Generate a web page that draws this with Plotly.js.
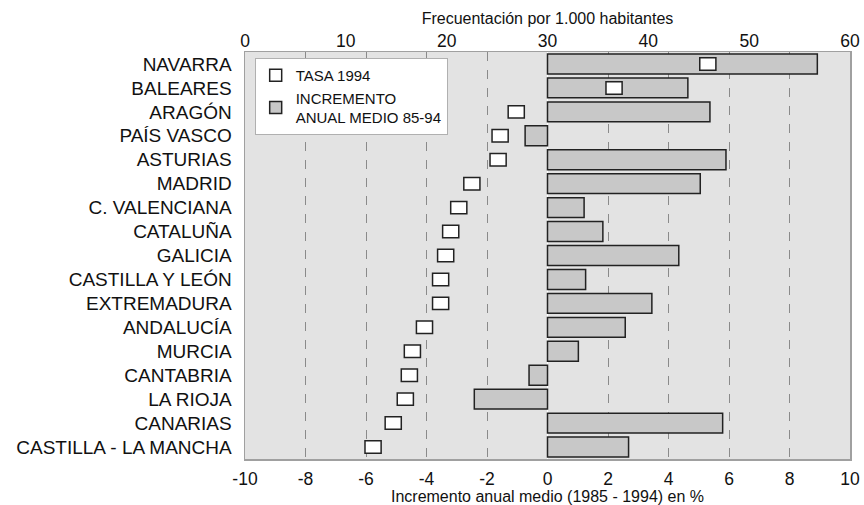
<!DOCTYPE html>
<html>
<head>
<meta charset="utf-8">
<script src="https://cdn.plot.ly/plotly-3.0.1.min.js"></script>
<style>html,body{margin:0;padding:0;background:#fff;}#chart{width:864px;height:505px;}</style>
</head>
<body>
<div id="chart"></div>
<script>
const regions = ["NAVARRA","BALEARES","ARAGÓN","PAÍS VASCO","ASTURIAS","MADRID","C. VALENCIANA","CATALUÑA","GALICIA","CASTILLA Y LEÓN","EXTREMADURA","ANDALUCÍA","MURCIA","CANTABRIA","LA RIOJA","CANARIAS","CASTILLA - LA MANCHA"];
const incremento = [8.92,4.64,5.37,-0.74,5.90,5.05,1.21,1.83,4.34,1.26,3.45,2.57,1.02,-0.61,-2.42,5.79,2.68];
const tasa1994 = [45.9,36.6,26.9,25.3,25.1,22.5,21.2,20.4,19.9,19.4,19.4,17.8,16.6,16.3,15.9,14.7,12.7];
const bottomTicks = [-10,-8,-6,-4,-2,0,2,4,6,8,10];
const topTicks = [0,10,20,30,40,50,60];

const FONT = "Liberation Sans, Arial, sans-serif";
const halfSq = 0.8;

const traces = [
  {
    type: "bar", orientation: "h", name: "INCREMENTO<br>ANUAL MEDIO 85-94",
    y: regions, x: incremento, xaxis: "x", yaxis: "y",
    width: 0.83,
    marker: {color: "#c8c8c8", line: {color: "#222", width: 1.5}},
    legendrank: 2, hoverinfo: "skip"
  },
  {
    type: "bar", orientation: "h", name: "TASA 1994",
    y: regions, x: tasa1994.map(() => 2 * halfSq), base: tasa1994.map(v => v - halfSq),
    xaxis: "x2", yaxis: "y",
    width: 0.52,
    marker: {color: "#ffffff", line: {color: "#222", width: 1.5}},
    legendrank: 1, hoverinfo: "skip"
  }
];

const layout = {
  width: 864, height: 505,
  margin: {l: 245, r: 14, t: 52, b: 46},
  paper_bgcolor: "#ffffff",
  plot_bgcolor: "#e3e3e3",
  barmode: "overlay",
  font: {family: FONT, color: "#111"},
  showlegend: true,
  legend: {
    x: 0.016, y: 0.985, xanchor: "left", yanchor: "top",
    bgcolor: "#ffffff", bordercolor: "#b0b0b0", borderwidth: 1,
    font: {family: FONT, size: 15, color: "#111"},
    tracegroupgap: 0, itemwidth: 30
  },
  xaxis: {
    range: [-10, 10], tickvals: bottomTicks, ticktext: bottomTicks.map(String),
    showgrid: true, gridcolor: "#8a8a8a", griddash: "dash", gridwidth: 1,
    zeroline: true, zerolinecolor: "#ffffff", zerolinewidth: 1.5,
    showline: true, linecolor: "#a0a0a0", linewidth: 1.5, mirror: true,
    ticks: "outside", ticklen: 3, tickcolor: "rgba(0,0,0,0)",
    tickfont: {size: 17.5, family: FONT, color: "#111"},
    title: {text: "Incremento anual medio (1985 - 1994) en %", font: {size: 16, family: FONT, color: "#111"}, standoff: 0}
  },
  xaxis2: {
    overlaying: "x", side: "top", anchor: "y",
    range: [0, 60], tickvals: topTicks, ticktext: topTicks.map(String),
    showgrid: false, zeroline: false,
    ticks: "", ticklen: 0, ticklabelstandoff: 1,
    tickfont: {size: 17.5, family: FONT, color: "#111"},
    title: {text: "Frecuentación por 1.000 habitantes", font: {size: 16, family: FONT, color: "#111"}, standoff: 1}
  },
  yaxis: {
    type: "category", autorange: "reversed",
    showgrid: false, zeroline: false,
    showline: true, linecolor: "#a0a0a0", linewidth: 1.5, mirror: true,
    ticks: "outside", ticklen: 8, tickcolor: "rgba(0,0,0,0)",
    tickfont: {size: 19, family: FONT, color: "#111"}
  }
};

Plotly.newPlot("chart", traces, layout, {displayModeBar: false, staticPlot: true});
</script>
</body>
</html>
